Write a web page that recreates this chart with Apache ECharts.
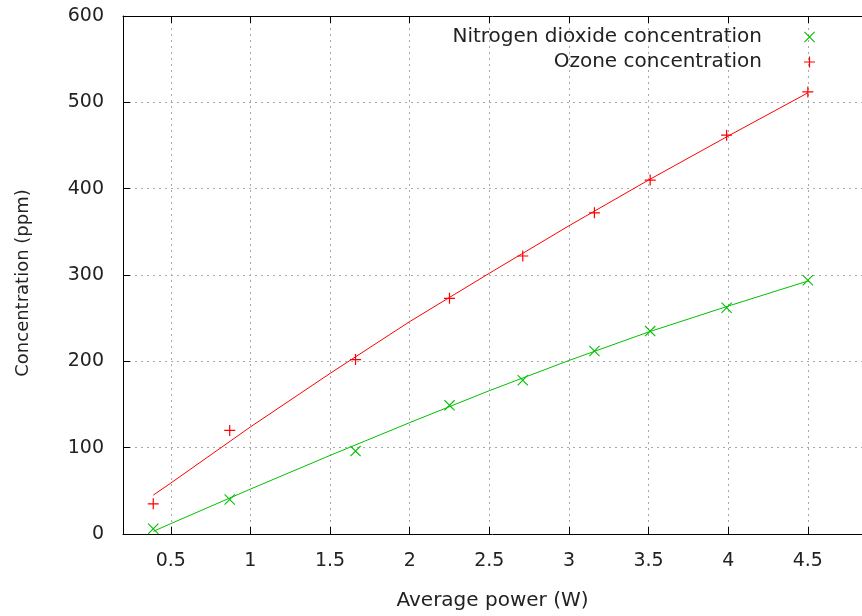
<!DOCTYPE html>
<html>
<head>
<meta charset="utf-8">
<script src="https://cdn.jsdelivr.net/npm/echarts@6/dist/echarts.min.js"></script>
<style>
html, body { margin: 0; padding: 0; background: #fff; }
#chart { width: 862px; height: 616px; }
</style>
</head>
<body>
<div id="chart"></div>
<script>
// measured points
var power = [0.39, 0.87, 1.66, 2.25, 2.71, 3.16, 3.51, 3.99, 4.5];
var no2 = [6, 40, 96, 149, 178, 212, 235, 262, 294];
var ozone = [35, 120, 202, 273, 322, 372, 410, 462, 512];

// fitted curves
var fitX = [0.39, 0.5, 1, 1.5, 2, 2.5, 3, 3.5, 4, 4.5];
var no2Fit = [3, 12, 52, 91, 129, 166, 201, 234, 264, 293];
var ozoneFit = [45, 59, 124, 186, 246, 302, 357, 410, 461, 511];

var xTicks = [0.5, 1, 1.5, 2, 2.5, 3, 3.5, 4, 4.5];
var seriesNames = ['Nitrogen dioxide concentration', 'Ozone concentration'];

var FONT = 'DejaVu Sans';
var TXT = '#222';
var RED = '#ff0000';
var GREEN = '#00c000';

var plusPath = 'path://M4.45,0H5.55V4.45H10V5.55H5.55V10H4.45V5.55H0V4.45H4.45Z';
var crossPath = 'path://M0,0.7L0.7,0L5,4.3L9.3,0L10,0.7L5.7,5L10,9.3L9.3,10L5,5.7L0.7,10L0,9.3L4.3,5Z';

function pairs(xs, ys) {
	var out = [];
	for (var i = 0; i < xs.length; i++) out.push([xs[i], ys[i]]);
	return out;
}

var gridLine = { show: true, lineStyle: { color: '#a8a8a8', type: [2, 4], width: 1 } };

var chart = echarts.init(document.getElementById('chart'));
chart.setOption({
	animation: false,
	backgroundColor: '#fff',
	grid: { left: 123, top: 16, right: 0, bottom: 82 },
	legend: {
		data: seriesNames,
		orient: 'vertical',
		align: 'right',
		right: 47,
		top: 27,
		padding: 0,
		itemWidth: 11,
		itemHeight: 11,
		itemGap: 5,
		textStyle: { fontFamily: FONT, fontSize: 20, color: TXT, padding: [0, 37, 0, 0] }
	},
	xAxis: [{
		type: 'value',
		min: 0.2,
		max: 4.84,
		name: 'Average power (W)',
		nameLocation: 'middle',
		nameGap: 57,
		nameTextStyle: { fontFamily: FONT, fontSize: 20, color: TXT },
		axisLine: { show: true, lineStyle: { color: '#000', width: 1 } },
		axisTick: { show: true, inside: true, length: 7, customValues: xTicks, lineStyle: { color: '#000' } },
		axisLabel: { customValues: xTicks, margin: 18, fontFamily: FONT, fontSize: 19, color: TXT },
		splitLine: gridLine
	}, {
		type: 'value',
		position: 'top',
		min: 0.2,
		max: 4.84,
		axisLine: { show: true, lineStyle: { color: '#000', width: 1 } },
		axisTick: { show: true, inside: true, length: 7, customValues: xTicks, lineStyle: { color: '#000' } },
		axisLabel: { show: false },
		splitLine: { show: false }
	}],
	yAxis: {
		type: 'value',
		min: 0,
		max: 600,
		interval: 100,
		name: 'Concentration (ppm)',
		nameLocation: 'middle',
		nameGap: 91,
		nameTextStyle: { fontFamily: FONT, fontSize: 18, color: TXT, padding: [0, 16, 0, 0] },
		axisLine: { show: true, lineStyle: { color: '#000', width: 1 } },
		axisTick: { show: true, inside: true, length: 7, lineStyle: { color: '#000' } },
		axisLabel: { margin: 19, fontFamily: FONT, fontSize: 19, color: TXT },
		splitLine: gridLine
	},
	series: [{
		name: 'Nitrogen dioxide fit',
		type: 'line',
		data: pairs(fitX, no2Fit),
		showSymbol: false,
		lineStyle: { color: GREEN, width: 1 },
		itemStyle: { color: GREEN },
		z: 2
	}, {
		name: 'Ozone fit',
		type: 'line',
		data: pairs(fitX, ozoneFit),
		showSymbol: false,
		lineStyle: { color: RED, width: 1 },
		itemStyle: { color: RED },
		z: 2
	}, {
		name: seriesNames[0],
		type: 'scatter',
		data: pairs(power, no2),
		symbol: crossPath,
		symbolSize: 11,
		itemStyle: { color: GREEN, opacity: 1 },
		z: 3
	}, {
		name: seriesNames[1],
		type: 'scatter',
		data: pairs(power, ozone),
		symbol: plusPath,
		symbolSize: 11,
		itemStyle: { color: RED, opacity: 1 },
		z: 3
	}]
});
</script>
</body>
</html>
